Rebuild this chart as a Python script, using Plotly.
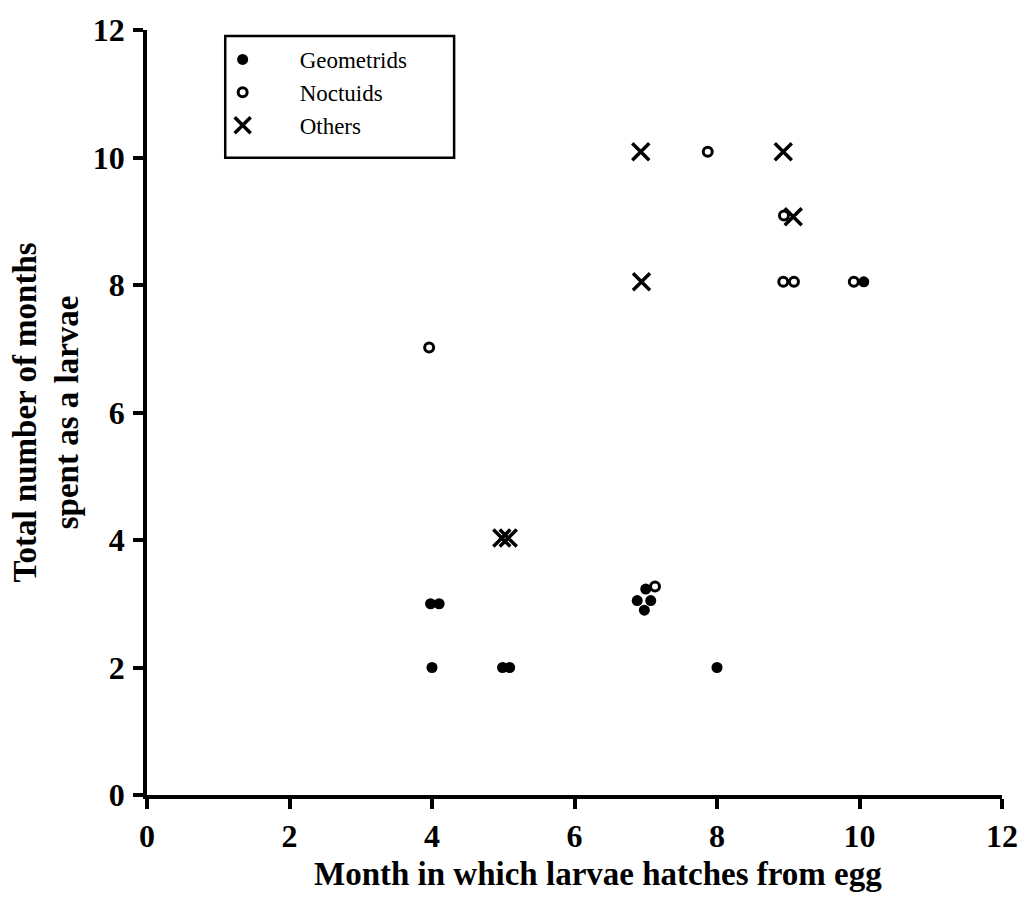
import plotly.graph_objects as go

# Data
geo_x = [4.0, 3.98, 4.1, 4.99, 5.09, 8.0, 7.0, 6.88, 7.07, 6.98, 10.06]
geo_y = [2.0, 3.0, 3.0, 2.0, 2.0, 2.0, 3.23, 3.05, 3.05, 2.9, 8.05]

noc_x = [3.96, 7.87, 8.94, 8.93, 9.08, 9.92, 7.13]
noc_y = [7.02, 10.09, 9.09, 8.05, 8.05, 8.05, 3.27]

oth_x = [6.93, 8.93, 6.94, 9.07, 4.98, 5.07]
oth_y = [10.09, 10.09, 8.05, 9.07, 4.03, 4.03]

x_ticks = [0, 2, 4, 6, 8, 10, 12]
y_ticks = [0, 2, 4, 6, 8, 10, 12]

x_title = "Month in which larvae hatches from egg"
y_title = "Total number of months<br>spent as a larvae"

FONT = "Liberation Serif"

fig = go.Figure()
fig.add_trace(go.Scatter(x=geo_x, y=geo_y, mode="markers", name="Geometrids",
                         marker=dict(symbol="circle", size=11, color="black"),
                         cliponaxis=False))
fig.add_trace(go.Scatter(x=noc_x, y=noc_y, mode="markers", name="Noctuids",
                         marker=dict(symbol="circle-open", size=9, color="black",
                                     line=dict(width=3, color="black")),
                         cliponaxis=False))
fig.add_trace(go.Scatter(x=oth_x, y=oth_y, mode="markers", name="Others",
                         marker=dict(symbol="x-thin-open", size=17, color="black",
                                     line=dict(width=3.5, color="black")),
                         cliponaxis=False))

axis_common = dict(
    showgrid=False, zeroline=False, showline=True, linecolor="black", linewidth=3.5,
    ticks="outside", ticklen=10, tickwidth=3.5, tickcolor="black",
    tickfont=dict(family=FONT, size=32, color="black", weight="bold"),
    mirror=False, range=[0, 12],
)

fig.update_layout(
    width=1030, height=901,
    margin=dict(l=147, r=20, t=29, b=106),
    paper_bgcolor="white", plot_bgcolor="white",
    font=dict(family=FONT, color="black"),
    xaxis=dict(tickvals=x_ticks, ticklabelstandoff=0, **axis_common),
    yaxis=dict(tickvals=y_ticks, ticklabelstandoff=2, **axis_common),
    legend=dict(x=0.0452, y=0.9896, xanchor="left", yanchor="top",
                borderwidth=0, bgcolor="rgba(0,0,0,0)",
                font=dict(family=FONT, size=23, color="black"),
                tracegroupgap=0, itemwidth=104),
    showlegend=True,
    shapes=[
        dict(type="rect", xref="paper", yref="paper",
             x0=0.0915, x1=0.3592, y0=0.8329, y1=0.9922,
             line=dict(color="black", width=2.5), fillcolor="rgba(0,0,0,0)",
             layer="below"),
    ],
    annotations=[
        dict(text=x_title, xref="paper", yref="paper", x=0.527, y=0,
             xanchor="center", yanchor="middle", yshift=-79, showarrow=False,
             font=dict(family=FONT, size=33, color="black", weight="bold")),
        dict(text=y_title, xref="paper", yref="paper", x=0, y=0.5,
             xanchor="center", yanchor="middle", xshift=-101, showarrow=False,
             textangle=-90,
             font=dict(family=FONT, size=33, color="black", weight="bold")),
    ],
)

fig.write_html("out.html")
